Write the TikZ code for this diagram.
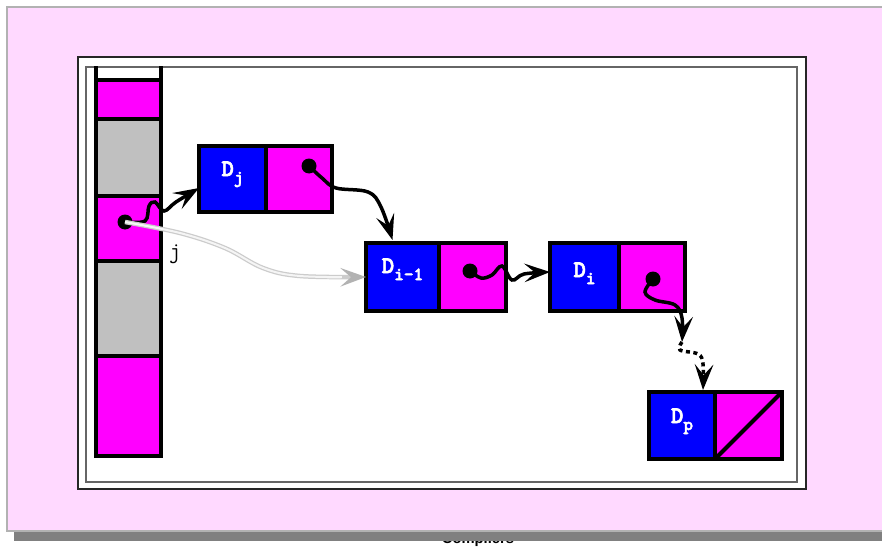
\documentclass[tikz,border=0pt]{standalone}
\usepackage{fontspec}
\setmainfont{Liberation Serif}
\newfontfamily\lsans{Liberation Sans}
\newfontfamily\ttb[FakeBold=2.5]{lmmonolt10-bold.otf}
\usetikzlibrary{arrows.meta,calc}
\definecolor{bgpink}{RGB}{255,217,255}
\definecolor{mag}{RGB}{255,0,255}
\definecolor{cellgray}{RGB}{192,192,192}
\definecolor{bblue}{RGB}{0,0,255}
\definecolor{shadowgray}{RGB}{128,128,128}
\tikzset{
  bx/.style={draw=black, line width=4*0.02cm, anchor=north west, inner sep=0pt, outer sep=0pt},
  bluebox/.style={bx, fill=bblue},
  magbox/.style={bx, fill=mag},
  grcell/.style={bx, fill=cellgray, minimum width=65*0.02cm},
  mgcell/.style={bx, fill=mag, minimum width=65*0.02cm},
  lbl/.style={text=white, font=\ttb\fontsize{13.5}{15}\selectfont, inner sep=0pt, anchor=base},
  dot/.style={circle, fill=black, minimum size=15*0.02cm, inner sep=0pt},
  link/.style={line width=3.5*0.02cm, line cap=round, -{Stealth[length=14.5pt,width=10.5pt,inset=6pt]}},
}
\newcommand{\sbs}[1]{\raisebox{-4pt}{\fontsize{10.5}{10.5}\selectfont #1}}
\begin{document}
\begin{tikzpicture}[x=0.02cm,y=-0.02cm]
\useasboundingbox (0,0) rectangle (882,554);
\clip (0,0) rectangle (882,554);
% caption hidden behind shadow
\node[font=\lsans\bfseries\fontsize{8.4}{9}\selectfont, anchor=base, inner sep=0pt] (cap) at (478,543) {Compilers};
% page background
\draw[draw=black!30, line width=2*0.02cm, fill=bgpink] (7,7) rectangle (900,531);
\fill[shadowgray] (14,532) rectangle (900,541);
% frames
\draw[fill=white, draw=black!85, line width=1.2*0.02cm] (78,57) rectangle (806,489);
\draw[draw=black!60, line width=1.8*0.02cm] (86,67) rectangle (797,482);
% stack
\node[mgcell, minimum height=39*0.02cm] (c1) at (96,80) {};
\node[grcell, minimum height=77*0.02cm] (c2) at (c1.south west) {};
\node[mgcell, minimum height=65*0.02cm] (c3) at (c2.south west) {};
\node[grcell, minimum height=95*0.02cm] (c4) at (c3.south west) {};
\node[mgcell, minimum height=100*0.02cm] (c5) at (c4.south west) {};
\draw[line width=4*0.02cm] (c1.north west) -- ++(0,-14);
\draw[line width=4*0.02cm] (c1.north east) -- ++(0,-14);
\node[font=\ttfamily\fontsize{13}{13}\selectfont, anchor=base, inner sep=0pt] (jl) at (175,258) {j};
% list nodes
\node[bluebox, minimum width=67*0.02cm, minimum height=66*0.02cm] (djb) at (199,146) {};
\node[magbox, minimum width=66*0.02cm, minimum height=66*0.02cm] (djm) at (djb.north east) {};
\node[bluebox, minimum width=73*0.02cm, minimum height=68*0.02cm] (dab) at (366,243) {};
\node[magbox, minimum width=67*0.02cm, minimum height=68*0.02cm] (dam) at (dab.north east) {};
\node[bluebox, minimum width=69*0.02cm, minimum height=68*0.02cm] (dib) at (550,243) {};
\node[magbox, minimum width=66*0.02cm, minimum height=68*0.02cm] (dim) at (dib.north east) {};
\node[bluebox, minimum width=66*0.02cm, minimum height=67*0.02cm] (dpb) at (649,392) {};
\node[magbox, minimum width=67*0.02cm, minimum height=67*0.02cm] (dpm) at (dpb.north east) {};
\draw[line width=4*0.02cm] (dpm.south west) -- (dpm.north east);
% labels
\node[lbl] (lj) at ($(djb.center)+(0,-3)$) {D\sbs{j}};
\node[lbl] (la) at ($(dab.center)+(0,-4)$) {D\sbs{i-1}};
\node[lbl] (li) at ($(dib.center)+(0,0)$) {D\sbs{i}};
\node[lbl] (lp) at ($(dpb.center)+(0,-2.5)$) {D\sbs{p}};
% dots
\node[dot] (d0) at (125,222) {};
\node[dot] (d1) at (309,166) {};
\node[dot] (d2) at (470,271) {};
\node[dot] (d3) at (653,279) {};
% connectors
\draw[link] plot[smooth, tension=0.6] coordinates {(d0.center) (145,221) (149,206) (155,202) (164,211) (176,202) ($(djb.west)+(0,9)$)};
\draw[line width=4.5*0.02cm, draw=black!20, -{Stealth[length=14.5pt,width=10.5pt,inset=6pt,color=black!30,fill=black!8]}]
  plot[smooth, tension=0.6] coordinates {(d0.center) (180,233) (225,248) (263,268) (300,276) ($(dab.west)+(0,0)$)};
\draw[line width=2*0.02cm, draw=black!4, shorten >=22pt]
  plot[smooth, tension=0.6] coordinates {(d0.center) (180,233) (225,248) (263,268) (300,276) ($(dab.west)+(0,0)$)};
\draw[link] plot[smooth, tension=0.6] coordinates {(d1.center) (322,178) (336,188) (368,192) (381,207) ($(dab.north)+(-10,-3)$)};
\draw[link] plot[smooth, tension=0.6] coordinates {(d2.center) (481,278) (492,275) (502,266) (512,280) (524,274) ($(dib.west)+(0,-5)$)};
\coordinate (gap) at (682,342);
\draw[link] plot[smooth, tension=0.6] coordinates {(d3.center) (645,292) (655,300) (675,305) (682,318) (gap)};
\draw[link, line cap=butt, dash pattern=on 4*0.02cm off 3.5*0.02cm] plot[smooth, tension=0.6] coordinates {(gap) (680,350) (698,354) (703,364) ($(dpb.north east)+(-12,-2)$)};
\end{tikzpicture}
\end{document}
